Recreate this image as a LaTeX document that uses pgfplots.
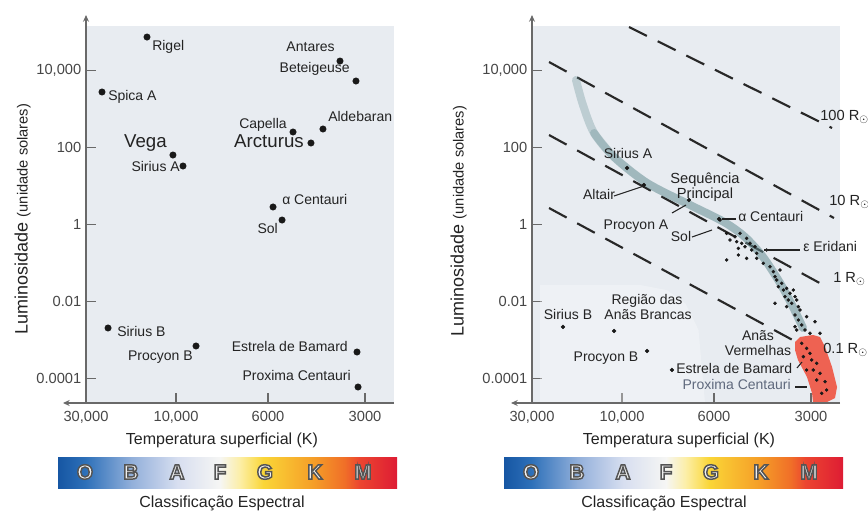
\documentclass[border=0pt]{standalone}
\usepackage{fontspec}
\setmainfont{Liberation Sans}
\usepackage{pgfplots}
\pgfplotsset{compat=1.18}
\usetikzlibrary{arrows.meta}

\definecolor{bgc}{RGB}{232,236,241}
\definecolor{axc}{RGB}{105,105,105}
\definecolor{tickc}{RGB}{70,70,70}
\definecolor{txt}{RGB}{35,35,35}
\definecolor{dotc}{RGB}{25,25,25}
\definecolor{msband}{RGB}{100,140,145}
\definecolor{redreg}{RGB}{238,98,82}
\definecolor{dashc}{RGB}{40,40,40}
\definecolor{lfill}{RGB}{240,240,240}
\definecolor{proxc}{RGB}{95,105,125}
\definecolor{s0}{RGB}{22,86,163}
\definecolor{s1}{RGB}{45,112,185}
\definecolor{s2}{RGB}{145,175,218}
\definecolor{s3}{RGB}{215,222,240}
\definecolor{s4}{RGB}{246,246,244}
\definecolor{s5}{RGB}{252,238,165}
\definecolor{s6}{RGB}{250,214,55}
\definecolor{s7}{RGB}{245,158,40}
\definecolor{s8}{RGB}{240,110,40}
\definecolor{s9}{RGB}{236,70,48}
\definecolor{s10}{RGB}{222,28,52}

\newcommand\fs[1]{\fontsize{#1}{#1}\selectfont}

\pgfplotsset{
  hrbase/.style={
    scale only axis, width=231pt, height=282.75pt,
    anchor=south west, clip=false,
    xmin=0, xmax=3.3118, ymin=-4.628, ymax=5.152,
    axis background/.style={fill=bgc},
    axis x line*=bottom, axis y line*=left,
    axis line style={draw=none},
    xtick={0,0.968,1.957,3}, xticklabels={{30,000},{10,000},6000,3000},
    ytick={-4,-2,0,2,4}, yticklabels={0.0001,0.01,1,100,{10,000}},
    tick align=inside, major tick length=7.5pt,
    tick style={axc, line width=1pt},
    ticklabel style={font=\fs{11}, text=tickc},
    xticklabel style={yshift=-3pt},
    /pgf/number format/assume math mode=true,
  }
}

% outlined letter: fill + stroke text render mode
\newcommand\slet[2]{%
  \node[font=\fs{15.5}\bfseries, text=lfill] at (#1,472)
    {\special{pdf:literal direct 2 Tr 1.1 w 0.33 G}#2\special{pdf:literal direct 0 Tr}};}

\newcommand\specbar[1]{%
  \begin{scope}[shift={(#1,0)}]
    \shade[left color=s0,right color=s1] (0,457) rectangle (27.3,488);
    \shade[left color=s1,right color=s2] (27,457) rectangle (73.3,488);
    \shade[left color=s2,right color=s3] (73,457) rectangle (119.3,488);
    \shade[left color=s3,right color=s4] (119,457) rectangle (162.3,488);
    \shade[left color=s4,right color=s5] (162,457) rectangle (182.3,488);
    \shade[left color=s5,right color=s6] (182,457) rectangle (205.3,488);
    \shade[left color=s6,right color=s7] (205,457) rectangle (255.3,488);
    \shade[left color=s7,right color=s8] (255,457) rectangle (287.3,488);
    \shade[left color=s8,right color=s9] (287,457) rectangle (301.3,488);
    \shade[left color=s9,right color=s10] (301,457) rectangle (339,488);
    \slet{27}{O}\slet{73}{B}\slet{119}{A}\slet{162}{F}\slet{207}{G}\slet{257}{K}\slet{305}{M}
  \end{scope}}

\begin{document}
\begin{tikzpicture}
\useasboundingbox (0,0) rectangle (651pt,384pt);

% ---------------- left panel ----------------
\begin{axis}[hrbase, at={(64.5pt,81.75pt)}]
\addplot[only marks, mark=*, mark size=2.4pt, mark options={fill=dotc, draw=dotc}] table {
X Y
0.656 4.866
2.731 4.243
2.903 3.725
0.172 3.440
2.226 2.402
2.548 2.480
2.419 2.117
0.935 1.805
1.043 1.520
2.011 0.457
2.108 0.119
0.237 -2.682
1.183 -3.149
2.914 -3.305
2.925 -4.213
};
\draw[axc, line width=1.1pt, -{Stealth[length=5pt,width=4.5pt]}] (rel axis cs:1,0) -- (rel axis cs:-0.0747,0);
\draw[axc, line width=1.1pt, -{Stealth[length=5pt,width=4.5pt]}] (rel axis cs:0,0) -- (rel axis cs:0,1.029);
\end{axis}

% ---------------- right panel ----------------
\begin{axis}[hrbase, at={(399pt,81.75pt)}]
% white dwarf region
\addplot[fill=white, fill opacity=0.3, draw=none] coordinates {(0.086,-1.567)(1.161,-1.567)(1.450,-1.700)(1.650,-2.050)(1.790,-2.734)(1.860,-4.628)(0.086,-4.628)} -- cycle;
% lines of constant radius
\addplot[dashc, line width=1.6pt, dash pattern=on 15pt off 9pt] coordinates {(1.043,5.126)(3.226,2.506)};
\addplot[dashc, line width=1.6pt, dash pattern=on 15pt off 9pt] coordinates {(0.183,4.218)(3.247,0.171)};
\addplot[dashc, line width=1.6pt, dash pattern=on 15pt off 9pt] coordinates {(0.183,2.324)(3.172,-1.620)};
\addplot[dashc, line width=1.6pt, dash pattern=on 15pt off 9pt] coordinates {(0.183,0.430)(3.043,-3.309)};
% main sequence band
\addplot[msband, line width=6pt, opacity=0.32, smooth, line cap=round] coordinates {
(0.473,3.751)(0.548,3.102)(0.667,2.376)(0.882,1.754)(1.237,1.079)(1.699,0.508)(2.065,0.067)(2.290,-0.322)(2.484,-0.840)(2.667,-1.515)(2.806,-2.137)(2.914,-2.682)};
\addplot[msband, line width=6pt, opacity=0.32, smooth, line cap=round] coordinates {
(0.667,2.376)(0.882,1.754)(1.237,1.079)(1.699,0.508)(2.065,0.067)(2.290,-0.322)(2.484,-0.840)(2.667,-1.515)(2.806,-2.137)(2.914,-2.682)};
% red dwarfs region
\addplot[fill=redreg, draw=none] coordinates {
(2.828,-3.045)(2.882,-2.916)(3.022,-2.864)(3.097,-2.916)(3.151,-3.175)(3.226,-3.694)(3.280,-4.213)(3.258,-4.499)(3.172,-4.603)(3.022,-4.603)(3.011,-4.369)(2.957,-3.954)(2.860,-3.513)(2.828,-3.253)} -- cycle;
% main sequence stars
\addplot[only marks, mark=*, mark size=1.1pt, mark options={fill=dotc, draw=dotc}] table {
X Y
2.022 0.119
2.093 -0.226
2.129 -0.400
2.183 -0.314
2.201 -0.443
2.237 -0.226
2.255 -0.486
2.290 -0.573
2.219 -0.616
2.308 -0.356
2.344 -0.486
2.362 -0.659
2.398 -0.573
2.416 -0.745
2.416 -0.875
2.093 -0.918
2.219 -0.789
2.308 -0.875
2.523 -0.659
2.487 -1.005
2.559 -1.092
2.595 -1.221
2.613 -1.351
2.631 -1.437
2.667 -1.178
2.649 -1.610
2.685 -1.523
2.703 -1.697
2.738 -1.653
2.720 -1.869
2.774 -1.783
2.756 -1.956
2.792 -2.042
2.810 -1.697
2.828 -1.869
2.846 -1.956
2.864 -2.129
2.882 -2.215
2.738 -2.129
2.828 -2.345
2.864 -2.475
2.613 -2.042
2.900 -2.604
2.935 -2.734
2.989 -2.820
3.097 -2.820
3.043 -2.518
2.846 -2.734
2.828 -2.648
2.953 -2.389
2.900 -3.080
2.953 -3.210
2.918 -3.426
2.989 -3.340
3.007 -3.512
3.061 -3.599
3.025 -3.772
3.097 -3.858
3.061 -4.031
3.151 -4.075
3.168 -4.291
3.115 -4.377
2.953 -3.772
};
% named stars
\addplot[only marks, mark=*, mark size=1.4pt, mark options={fill=dotc, draw=dotc}] table {
X Y
1.022 1.468
1.204 1.027
1.688 0.638
2.011 0.145
0.333 -2.655
0.882 -2.760
1.237 -3.279
1.505 -3.771
};
\draw[axc, line width=1.1pt, -{Stealth[length=5pt,width=4.5pt]}] (rel axis cs:1,0) -- (rel axis cs:-0.068,0);
\draw[axc, line width=1.1pt, -{Stealth[length=5pt,width=4.5pt]}] (rel axis cs:0,0) -- (rel axis cs:0,1.029);
\end{axis}

% ---------------- texts (pixel frame) ----------------
\begin{scope}[x=0.75pt,y=-0.75pt,yshift=384pt, every node/.style={inner sep=0pt, text=txt}]
\tikzset{lb/.style={font=\fs{10.5}}}
% left panel star names
\node[lb, anchor=mid west] at (152,47) {Rigel};
\node[lb, anchor=mid east] at (335,48) {Antares};
\node[lb, anchor=mid east] at (350,69) {Beteigeuse};
\node[lb, anchor=mid west] at (108,97) {Spica A};
\node[lb, anchor=mid east] at (287,125) {Capella};
\node[lb, anchor=mid west] at (328,118) {Aldebaran};
\node[font=\fs{14}, anchor=mid east] at (304,144) {Arcturus};
\node[font=\fs{14}, anchor=mid east] at (167,144) {Vega};
\node[lb, anchor=mid east] at (180,168) {Sirius A};
\node[lb, anchor=mid west] at (282,201) {α Centauri};
\node[lb, anchor=mid east] at (278,230) {Sol};
\node[lb, anchor=mid west] at (117,333) {Sirius B};
\node[lb, anchor=mid east] at (193,357) {Procyon B};
\node[lb, anchor=mid east] at (348,348) {Estrela de Bamard};
\node[lb, anchor=mid east] at (351,377) {Proxima Centauri};

% right panel labels
\node[lb, anchor=mid] at (628,155) {Sirius A};
\node[lb, anchor=mid] at (599,196) {Altair};
\node[font=\fs{11}, anchor=base] at (705,183) {Sequência};
\node[font=\fs{11}, anchor=base] at (705,198) {Principal};
\node[lb, anchor=mid] at (636,226) {Procyon A};
\node[lb, anchor=mid] at (681,238) {Sol};
\node[lb, anchor=mid west] at (738,218) {α Centauri};
\node[lb, anchor=mid west] at (803,248) {ε Eridani};
\node[font=\fs{11}, anchor=mid west] at (820,117) {100 R$_\odot$};
\node[font=\fs{11}, anchor=mid west] at (829,202) {10 R$_\odot$};
\node[font=\fs{11}, anchor=mid west] at (833,279) {1 R$_\odot$};
\node[font=\fs{11}, anchor=mid west] at (823,350) {0.1 R$_\odot$};
\node[lb, anchor=mid] at (568,316) {Sirius B};
\node[lb, anchor=mid] at (647,301) {Região das};
\node[lb, anchor=mid] at (648,316) {Anãs Brancas};
\node[lb, anchor=mid] at (606,358) {Procyon B};
\node[lb, anchor=mid] at (758,337) {Anãs};
\node[lb, anchor=mid] at (758,352) {Vermelhas};
\node[lb, anchor=mid west] at (676,370) {Estrela de Bamard};
\node[lb, anchor=mid east, text=proxc] at (791,386) {Proxima Centauri};
% leader lines
\draw[txt, line width=0.8pt] (614,196) -- (644,186);
\draw[txt, line width=0.8pt] (672,213) -- (686,205);
\draw[txt, line width=0.8pt] (692,237) -- (712,230);
\draw[txt, line width=0.8pt] (722,219) -- (736,219);
\draw[txt, line width=0.8pt] (764,250) -- (800,250);
\draw[txt, line width=0.8pt] (797,368) -- (802,362);
\draw[txt, line width=0.8pt] (795,387) -- (807,387);

% axis titles
\node[rotate=90, anchor=mid] at (24,219) {\fs{13.5}Luminosidade \fs{11}(unidade solares)};
\node[rotate=90, anchor=mid] at (460,221) {\fs{13.5}Luminosidade \fs{11}(unidade solares)};
\node[font=\fs{12}] at (222,440) {Temperatura superficial (K)};
\node[font=\fs{12}] at (679,440) {Temperatura superficial (K)};

% spectral bars
\specbar{58}
\specbar{504}
\node[font=\fs{12}] at (222,503) {Classificação Espectral};
\node[font=\fs{12}] at (664,503) {Classificação Espectral};
\end{scope}
\end{tikzpicture}
\end{document}
